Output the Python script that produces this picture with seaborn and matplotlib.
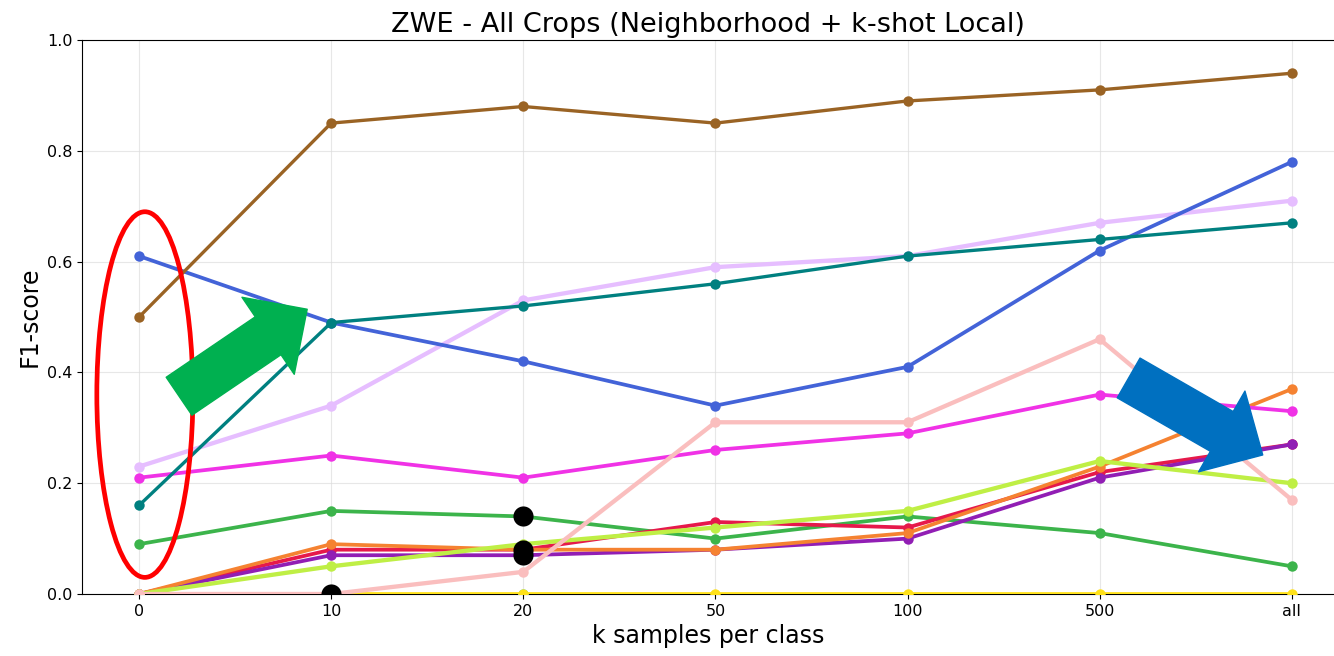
import matplotlib
matplotlib.use('Agg')
import matplotlib.pyplot as plt
from matplotlib.patches import Ellipse
import seaborn as sns
import numpy as np
import pandas as pd

k_labels = ['0', '10', '20', '50', '100', '500', 'all']

# F1-score per class, drawn bottom -> top
cyan     = [np.nan, np.nan, 0.00, np.nan, np.nan, np.nan, np.nan]
yellow   = [np.nan, 0.00, 0.00, 0.00, 0.00, 0.00, 0.00]
green    = [0.09, 0.15, 0.14, 0.10, 0.14, 0.11, 0.05]
red      = [0.00, 0.08, 0.08, 0.13, 0.12, 0.22, 0.27]
purple   = [0.00, 0.07, 0.07, 0.08, 0.10, 0.21, 0.27]
orange   = [0.00, 0.09, 0.08, 0.08, 0.11, 0.23, 0.37]
lime     = [0.00, 0.05, 0.09, 0.12, 0.15, 0.24, 0.20]
magenta  = [0.21, 0.25, 0.21, 0.26, 0.29, 0.36, 0.33]
pink     = [0.00, 0.00, 0.04, 0.31, 0.31, 0.46, 0.17]
lavender = [0.23, 0.34, 0.53, 0.59, 0.61, 0.67, 0.71]
blue     = [0.61, 0.49, 0.42, 0.34, 0.41, 0.62, 0.78]
teal     = [0.16, 0.49, 0.52, 0.56, 0.61, 0.64, 0.67]
brown    = [0.50, 0.85, 0.88, 0.85, 0.89, 0.91, 0.94]

series = [cyan, yellow, green, red, purple, orange, lime, magenta, pink, lavender, blue, teal, brown]
colors = ['#42d4f4', '#ffe119', '#3cb44b', '#e6194b', '#911eb4', '#f58231', '#bfef45',
          '#f032e6', '#fabebe', '#e6beff', '#4363d8', '#008080', '#9a6324']
widths = [2.7, 2.7, 2.7, 2.7, 2.7, 2.7, 3.1, 2.7, 3.1, 3.1, 2.7, 2.4, 2.4]

# highlighted points (black dots)
hl_k = ['10', '20', '20', '20']
hl_f1 = [0.00, 0.14, 0.08, 0.07]

sns.set_style("ticks")
plt.rcParams.update({'text.color': 'black', 'axes.labelcolor': 'black',
                     'xtick.color': 'black', 'ytick.color': 'black',
                     'axes.edgecolor': 'black'})
fig = plt.figure(figsize=(13.34, 6.56), dpi=100)
ax = fig.add_axes([0.0615, 0.0945, 0.9385, 0.8445])

for i, (vals, c, lw) in enumerate(zip(series, colors, widths)):
    df = pd.DataFrame({'k': k_labels, 'f1': vals})
    sns.lineplot(data=df, x='k', y='f1', color=c, marker='o', markersize=7.5,
                 markeredgewidth=0, linewidth=lw, ax=ax, zorder=3 + i, sort=False)

hl = pd.DataFrame({'k': hl_k, 'f1': hl_f1})
sns.scatterplot(data=hl, x='k', y='f1', color='black', s=210, linewidth=0, ax=ax, zorder=30)
ax.collections[-1].set_clip_path(ax.patch)

ax.set_xlim(-0.297, 6.22)
ax.set_ylim(0, 1.0)
ax.set_yticks(np.arange(0, 1.01, 0.2))
ax.grid(True, color='#dddddd', linewidth=0.8, alpha=0.7)
ax.spines['right'].set_visible(False)
ax.tick_params(labelsize=11.5)
ax.set_title('ZWE - All Crops (Neighborhood + k-shot Local)', fontsize=19.5)
ax.set_xlabel('k samples per class', fontsize=17)
ax.set_ylabel('F1-score', fontsize=17)

# annotations
ax.add_patch(Ellipse((0.03, 0.36), 0.5, 0.66, fill=False, edgecolor='red', linewidth=3.4, zorder=40))
arrow = 'simple,tail_width=3.3,head_width=6.7,head_length=3.4'
ax.annotate('', xy=(0.875, 0.514), xytext=(0.208, 0.357),
            arrowprops=dict(arrowstyle=arrow, color='#00b050', shrinkA=0, shrinkB=0, mutation_scale=10),
            zorder=41)
ax.annotate('', xy=(5.849, 0.251), xytext=(5.151, 0.390),
            arrowprops=dict(arrowstyle=arrow, color='#0070c0', shrinkA=0, shrinkB=0, mutation_scale=10),
            zorder=41)

fig.savefig('out.png', dpi=100)
